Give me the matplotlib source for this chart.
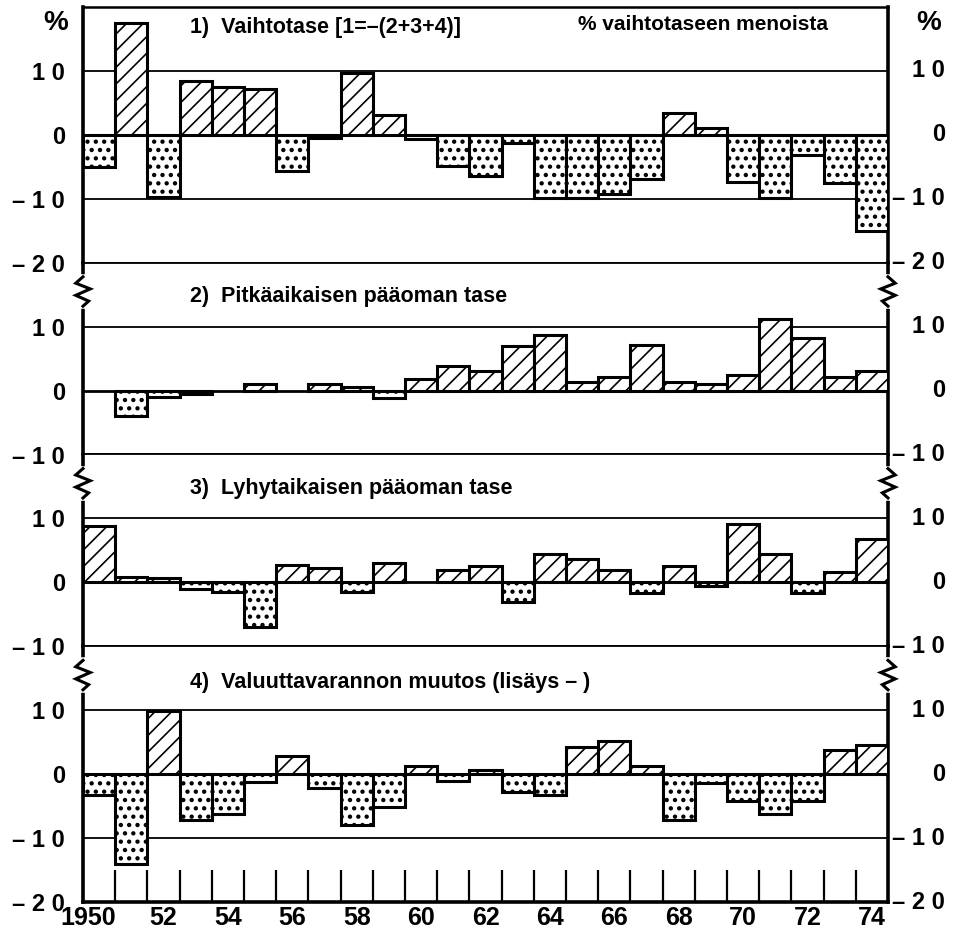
"""Suomen maksutase 1950-74, % vaihtotaseen menoista (neljä paneelia)."""

import matplotlib

matplotlib.use("Agg")
import matplotlib.pyplot as plt
import matplotlib.transforms as mtransforms
import numpy as np

plt.rcParams.update({
    "font.family": ["Liberation Sans", "DejaVu Sans"],
    "font.weight": "bold",
    "hatch.linewidth": 1.2,
    "hatch.color": "black",
})

years = np.arange(1950, 1975)

vaihtotase = [-5.0, 17.5, -9.7, 8.4, 7.5, 7.2, -5.6, -0.5, 9.7, 3.1,
              -0.7, -4.9, -6.5, -1.3, -9.8, -9.8, -9.2, -6.9, 3.4, 1.1,
              -7.4, -9.8, -3.1, -7.5, -15.0]
pitka_paaoma = [0.0, -4.0, -1.0, -0.5, 0.0, 1.0, 0.0, 1.0, 0.5, -1.1,
                1.8, 3.9, 3.0, 6.9, 8.7, 1.4, 2.2, 7.1, 1.4, 1.0,
                2.5, 11.2, 8.2, 2.2, 3.0]
lyhyt_paaoma = [8.8, 0.8, 0.7, -1.0, -1.5, -7.0, 2.7, 2.2, -1.5, 3.0,
                0.0, 2.0, 2.6, -3.1, 4.4, 3.6, 2.0, -1.6, 2.6, -0.6,
                9.1, 4.4, -1.6, 1.6, 6.8]
valuuttavaranto = [-3.2, -14.0, 9.8, -7.2, -6.2, -1.3, 2.8, -2.2, -8.0, -5.1,
                   1.3, -1.1, 0.7, -2.8, -3.3, 4.3, 5.2, 1.2, -7.2, -1.4,
                   -4.2, -6.3, -4.2, 3.7, 4.6]

series = [vaihtotase, pitka_paaoma, lyhyt_paaoma, valuuttavaranto]
titles = [
    "1)  Vaihtotase [1=\u2013(2+3+4)]",
    "2)  Pitkäaikaisen pääoman tase",
    "3)  Lyhytaikaisen pääoman tase",
    "4)  Valuuttavarannon muutos (lisäys \u2013 )",
]
title_y = [16.8, 14.7, 14.7, 14.3]
ylims = [(-20, 20), (-10, 20), (-10, 20), (-20, 20)]
ytick_sets = [[10, 0, -10, -20], [10, 0, -10], [10, 0, -10], [10, 0, -10, -20]]
xtick_years = years[::2]


def tick_text(v):
    s = " ".join(str(abs(v)))
    return "\u2013 " + s if v < 0 else s


def hatched_bars(ax, x, h, hatch, hlw):
    with plt.rc_context({"hatch.linewidth": hlw}):
        bars = ax.bar(x, h, width=1, color="white", edgecolor="black",
                      linewidth=2.2, hatch=hatch, zorder=3)
    for p in bars:
        if hasattr(p, "set_hatch_linewidth"):
            p.set_hatch_linewidth(hlw)
    return bars


fig = plt.figure(figsize=(9.6, 9.38), dpi=100)
gs = fig.add_gridspec(
    4, 1, height_ratios=[hi - lo for lo, hi in ylims], hspace=0,
    left=83 / 960, right=888 / 960, top=1 - 7 / 938, bottom=1 - 902 / 938,
)

for i, (vals, (lo, hi)) in enumerate(zip(series, ylims)):
    ax = fig.add_subplot(gs[i])
    vals = np.asarray(vals)
    ax.set_xlim(years[0] - 0.5, years[-1] + 0.5)
    ax.set_ylim(lo, hi)

    # grid lines
    for g in (10, -10):
        if lo < g < hi:
            ax.axhline(g, color="black", lw=1.3, zorder=1)
    ax.axhline(0, color="black", lw=2.0, zorder=1)

    pos = vals > 0
    neg = vals < 0
    hatched_bars(ax, years[pos], vals[pos], "//", 1.2)
    hatched_bars(ax, years[neg], vals[neg], "..", 1.9)

    for side in ("left", "right"):
        ax.spines[side].set_linewidth(2.6)
    ax.spines["top"].set_linewidth(1.3 if i else 1.8)
    ax.spines["bottom"].set_linewidth(2.6 if i == 3 else 1.3)

    ticks = ytick_sets[i]
    ax.set_yticks(ticks, [tick_text(t) for t in ticks])
    ax.tick_params(axis="y", length=0, pad=13, labelsize=17)
    for t in ticks:
        ax.text(1.0708, t, tick_text(t), transform=ax.get_yaxis_transform(),
                ha="right", va="center", fontsize=17)

    ax.text(0.133, title_y[i], titles[i], transform=ax.get_yaxis_transform(),
            ha="left", va="center", fontsize=15.5)

    # break marks on both spines
    if i > 0:
        trans = ax.get_yaxis_transform()
        for x0, sgn in ((0.0, 1), (1.0, -1)):
            ax.plot([x0, x0], [13.2, 17.8], color="white", lw=4,
                    transform=trans, clip_on=False, zorder=10)
            zx = [x0, x0 - 0.009 * sgn, x0 + 0.009 * sgn, x0 - 0.009 * sgn,
                  x0 + 0.007 * sgn, x0]
            zy = [17.8, 16.8, 15.9, 14.9, 14.0, 13.2]
            ax.plot(zx, zy, color="black", lw=2.2, transform=trans,
                    clip_on=False, zorder=11, solid_joinstyle="miter")

    if i == 0:
        ax.text(0.615, 17.3, "% vaihtotaseen menoista",
                transform=ax.get_yaxis_transform(), ha="left", va="center",
                fontsize=15)
        for xf in (-0.0335, 1.051):
            ax.text(xf, 17.5, "%", transform=ax.get_yaxis_transform(),
                    ha="center", va="center", fontsize=20)

    if i == 3:
        ax.vlines(years[:-1] + 0.5, lo, -15, color="black", lw=1.6, zorder=2)
        ax.set_xticks(xtick_years,
                      [str(y) if j == 0 else f"{y % 100:02d}"
                       for j, y in enumerate(xtick_years)])
        ax.tick_params(axis="x", length=0, pad=3, labelsize=18)
        first = ax.get_xticklabels()[0]
        first.set_transform(first.get_transform() + mtransforms.ScaledTranslation(
            -0.11, 0, fig.dpi_scale_trans))
    else:
        ax.set_xticks([])

fig.savefig("out.png", dpi=100)
